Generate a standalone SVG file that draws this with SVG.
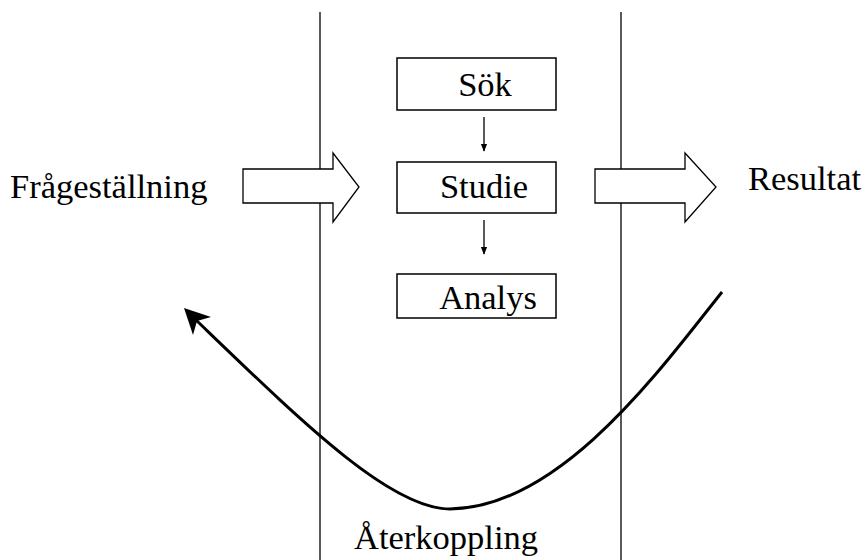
<svg xmlns="http://www.w3.org/2000/svg" width="868" height="560" viewBox="0 0 868 560" font-family="'Liberation Serif', 'Times New Roman', 'DejaVu Serif', serif">
<defs>
<style>
text{font-family:'Liberation Serif','Times New Roman','DejaVu Serif',serif;font-size:34.5px;fill:#000}
.box{fill:#fff;stroke:#000;stroke-width:1.5}
.blk{fill:#fff;stroke:#000;stroke-width:1.3;stroke-linejoin:miter}
.div{stroke:#222;stroke-width:1.5}
.thin{stroke:#000;stroke-width:1.3;fill:none}
</style>
<marker id="ah" viewBox="0 0 10 10" refX="9" refY="5" markerWidth="8" markerHeight="8" markerUnits="userSpaceOnUse" orient="auto">
<path d="M0,1 L10,5 L0,9 Z" fill="#000"/>
</marker>
</defs>
<rect width="868" height="560" fill="#fff"/>
<g id="dividers">
<line class="div" x1="320" y1="12" x2="320" y2="560"/>
<line class="div" x1="621" y1="12" x2="621" y2="560"/>
</g>
<g id="fragestallning"><text x="10" y="198">Frågeställning</text></g>
<g id="resultat"><text x="748" y="190">Resultat</text></g>
<g id="inArrow"><path class="blk" d="M243,169 H333 V153 L359,187 L333,222 V203 H243 Z"/></g>
<g id="outArrow"><path class="blk" d="M595,169 H685 V153 L716,187 L685,222 V203 H595 Z"/></g>
<g id="sok"><rect class="box" x="397" y="58" width="159" height="52"/><text x="485" y="96" text-anchor="middle">Sök</text></g>
<g id="studie"><rect class="box" x="397" y="162" width="159" height="51"/><text x="484" y="198" text-anchor="middle">Studie</text></g>
<g id="analys"><rect class="box" x="397" y="274" width="159" height="44"/><text x="488" y="309" text-anchor="middle">Analys</text></g>
<g id="aterkoppling"><text x="354" y="549">Återkoppling</text></g>
<g id="connectors">
<line class="thin" x1="484" y1="117" x2="484" y2="151" marker-end="url(#ah)"/>
<line class="thin" x1="484" y1="220" x2="484" y2="254" marker-end="url(#ah)"/>
<path d="M722,292 C660,370 560,508 450,509 C390,509 300,420 196,320" fill="none" stroke="#000" stroke-width="3"/>
<polygon points="184,308 211,317 197,321 193,335" fill="#000"/>
</g>
</svg>
